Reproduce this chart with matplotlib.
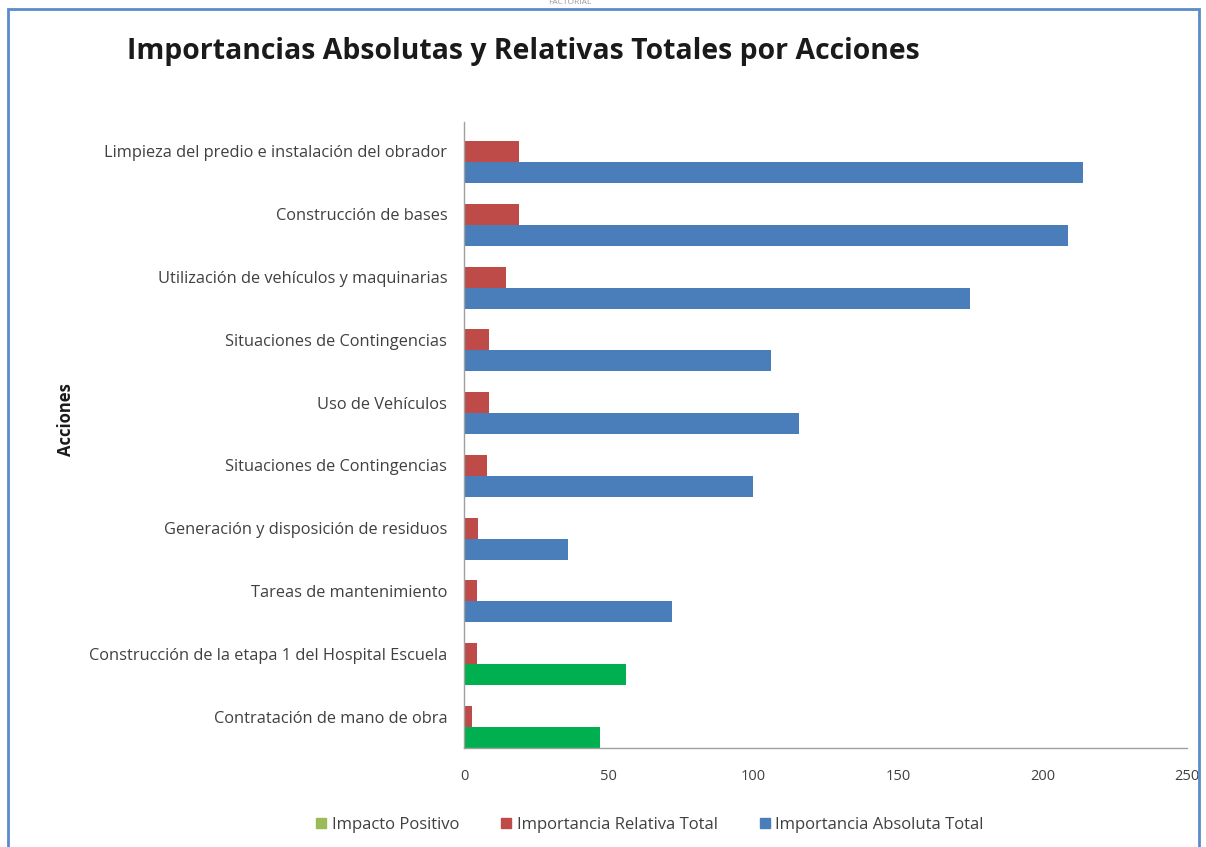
import matplotlib.pyplot as plt
import numpy as np
from matplotlib.patches import Patch, Rectangle

acciones = [
    "Limpieza del predio e instalación del obrador",
    "Construcción de bases",
    "Utilización de vehículos y maquinarias",
    "Situaciones de Contingencias",
    "Uso de Vehículos",
    "Situaciones de Contingencias",
    "Generación y disposición de residuos",
    "Tareas de mantenimiento",
    "Construcción de la etapa 1 del Hospital Escuela",
    "Contratación de mano de obra",
]
imp_absoluta = [214, 209, 175, 106, 116, 100, 36, 72, 56, 47]
imp_relativa = [19, 19, 14.5, 8.5, 8.5, 8, 5, 4.5, 4.5, 2.8]
positivo = [False, False, False, False, False, False, False, False, True, True]

BLUE = "#4A7EBB"
RED = "#BE4B48"
GREEN = "#00B050"
GREEN_LEG = "#9BBB59"
TXT = "#404040"

plt.rcParams['font.family'] = ['Open Sans', 'DejaVu Sans']

fig = plt.figure(figsize=(12.06, 8.47), dpi=100)
W, H = 1206, 847
ax = fig.add_axes([464 / W, 1 - 748 / H, (1187 - 464) / W, (748 - 122) / H])

n = len(acciones)
y = np.arange(n)
h = 0.335
abs_colors = [GREEN if p else BLUE for p in positivo]
ax.barh(y - h / 2, imp_relativa, height=h, color=RED)
ax.barh(y + h / 2, imp_absoluta, height=h, color=abs_colors)

ax.set_ylim(n - 1 + 0.334, -0.637)
ax.set_xlim(0, 250)
ax.set_xticks([0, 50, 100, 150, 200, 250])
ax.set_yticks(y - h / 2)
ax.set_yticklabels(acciones)
ax.tick_params(axis="both", length=0, colors=TXT)
ax.tick_params(axis="y", pad=12, labelsize=11.8)
ax.tick_params(axis="x", pad=15, labelsize=10.5)
for s in ["top", "right"]:
    ax.spines[s].set_visible(False)
for s in ["left", "bottom"]:
    ax.spines[s].set_color("#A0A0A0")
    ax.spines[s].set_linewidth(1)

fig.text(127 / W, 1 - 52 / H, "Importancias Absolutas y Relativas Totales por Acciones",
         fontsize=20.4, fontweight="bold", color="#1a1a1a", va="center", ha="left")
fig.text(66 / W, 1 - 420 / H, "Acciones", rotation=90, fontsize=12, fontweight="bold",
         color="#1a1a1a", va="center", ha="center")
fig.text(570 / W, 1 - 2 / H, "FACTORIAL", fontsize=6, color="#999999", ha="center", va="center")

handles = [Patch(color=GREEN_LEG), Patch(color=RED), Patch(color=BLUE)]
labels = ["Impacto Positivo", "Importancia Relativa Total", "Importancia Absoluta Total"]
fig.legend(handles, labels, loc="center", bbox_to_anchor=(650 / W, 1 - 825 / H), ncol=3,
           frameon=False, fontsize=12, handlelength=0.6, handleheight=0.6,
           handletextpad=0.35, columnspacing=2.5, labelcolor=TXT)

# chart frame
fig.patches.append(Rectangle((8 / W, -0.01), (1199 - 8) / W, 1 - 9 / H + 0.01,
                             transform=fig.transFigure, fill=False,
                             edgecolor="#5B8BC9", linewidth=2))

fig.savefig("out.png", dpi=100)
